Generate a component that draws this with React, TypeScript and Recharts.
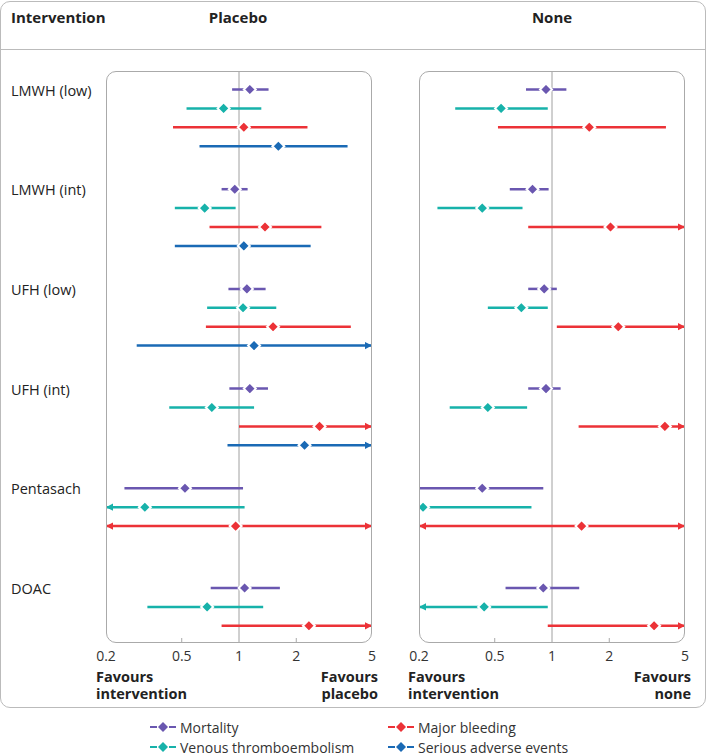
import React from 'react';
import { ScatterChart, Scatter, XAxis, YAxis, ErrorBar, ReferenceLine } from 'recharts';

const groups = ['LMWH (low)', 'LMWH (int)', 'UFH (low)', 'UFH (int)', 'Pentasach', 'DOAC'];
const metrics = ['Mortality', 'Venous thromboembolism', 'Major bleeding', 'Serious adverse events'];
const colors = ['#6a57b0', '#17b2aa', '#ec3237', '#1a6ab5'];
const xTicks = [0.2, 0.5, 1, 2, 5];
const innerTicks = [0.5, 2];

// [lower, estimate, upper]; a null bound means the interval runs past the axis
type CI = [number | null, number, number | null] | null;

const placeboMortality: CI[] = [[0.92, 1.14, 1.43], [0.81, 0.95, 1.11], [0.88, 1.1, 1.38], [0.89, 1.14, 1.42], [0.25, 0.52, 1.05], [0.71, 1.07, 1.64]];
const placeboVte: CI[] = [[0.53, 0.83, 1.31], [0.46, 0.66, 0.96], [0.68, 1.05, 1.57], [0.43, 0.72, 1.2], [null, 0.32, 1.07], [0.33, 0.68, 1.34]];
const placeboBleeding: CI[] = [[0.45, 1.06, 2.29], [0.7, 1.37, 2.71], [0.67, 1.51, 3.87], [1.0, 2.65, null], [null, 0.96, null], [0.81, 2.33, null]];
const placeboSae: CI[] = [[0.62, 1.61, 3.72], [0.46, 1.06, 2.38], [0.29, 1.2, null], [0.87, 2.21, null], null, null];

const noneMortality: CI[] = [[0.73, 0.93, 1.19], [0.6, 0.79, 0.96], [0.75, 0.91, 1.06], [0.75, 0.93, 1.11], [0.2, 0.43, 0.9], [0.57, 0.9, 1.39]];
const noneVte: CI[] = [[0.31, 0.54, 0.95], [0.25, 0.43, 0.7], [0.46, 0.69, 0.95], [0.29, 0.46, 0.74], [0.2, 0.21, 0.78], [null, 0.44, 0.95]];
const noneBleeding: CI[] = [[0.52, 1.57, 3.97], [0.75, 2.03, null], [1.06, 2.23, null], [1.38, 3.92, null], [null, 1.43, null], [0.95, 3.44, null]];
const noneSae: CI[] = [null, null, null, null, null, null];

const placeboSets = [placeboMortality, placeboVte, placeboBleeding, placeboSae];
const noneSets = [noneMortality, noneVte, noneBleeding, noneSae];

const X_MIN = 0.2;
const X_MAX = 5;
const GROUP = 99.7;
const ROW = 18.9;
const PLOT_TOP = 71;
const PLOT_H = 572;
const Y_MIN = -18.5;
const Y_MAX = PLOT_H - 18.5;
const FONT = '"Open Sans", sans-serif';

function buildSeries(ci: CI[], k: number) {
  const points: any[] = [];
  const arrows: any[] = [];
  ci.forEach((c, g) => {
    if (!c) return;
    const [lo, est, hi] = c;
    const y = g * GROUP + k * ROW;
    const l = lo ?? X_MIN;
    const h = hi ?? X_MAX;
    points.push({ x: est, y, err: [est - l, h - est] });
    if (lo === null) arrows.push({ x: X_MIN, y, dir: -1 });
    if (hi === null) arrows.push({ x: X_MAX, y, dir: 1 });
  });
  return { points, arrows };
}

const Diamond = (p: any) => {
  const { cx, cy, fill } = p;
  const r = 6;
  return (
    <path
      d={`M${cx},${cy - r}L${cx + r},${cy}L${cx},${cy + r}L${cx - r},${cy}Z`}
      fill={fill}
      stroke="#fff"
      strokeWidth={2}
    />
  );
};

const Arrow = (p: any) => {
  const { cx, cy, fill, payload } = p;
  const d = payload.dir;
  return <path d={`M${cx},${cy}L${cx - d * 7},${cy - 3.6}L${cx - d * 7},${cy + 3.6}Z`} fill={fill} />;
};

const GroupTick = (p: any) => {
  const { y, index } = p;
  return (
    <text x={11} y={y} dy={6} fill="#222" fontSize={14.5} fontFamily={FONT} textAnchor="start">
      {groups[index]}
    </text>
  );
};

function Panel({ sets, left, width, marginLeft, labels }: any) {
  return (
    <div style={{ position: 'absolute', left, top: PLOT_TOP }}>
      <ScatterChart width={width} height={PLOT_H + 30} margin={{ top: 0, right: 8, bottom: 0, left: marginLeft }}>
        <XAxis
          type="number"
          dataKey="x"
          scale="log"
          domain={[X_MIN, X_MAX]}
          ticks={xTicks}
          interval={0}
          allowDataOverflow
          axisLine={false}
          tickLine={false}
          height={30}
          tick={{ fill: '#333', fontSize: 14, fontFamily: FONT }}
        />
        <YAxis
          type="number"
          dataKey="y"
          domain={[Y_MIN, Y_MAX]}
          reversed
          hide={!labels}
          ticks={groups.map((_, g) => g * GROUP)}
          interval={0}
          width={labels ? 106 : 0}
          axisLine={false}
          tickLine={false}
          tick={<GroupTick />}
        />
        <ReferenceLine x={1} stroke="#a0a0a0" strokeWidth={1} />
        {innerTicks.map((t) => (
          <ReferenceLine
            key={t}
            segment={[{ x: t, y: Y_MAX }, { x: t, y: Y_MAX - 5 }]}
            stroke="#aaa"
            strokeWidth={1}
          />
        ))}
        {sets.map((ci: CI[], k: number) => {
          const { points, arrows } = buildSeries(ci, k);
          return [
            <Scatter
              key={`p${k}`}
              data={points}
              fill={colors[k]}
              shape={<Diamond />}
              isAnimationActive={false}
            >
              <ErrorBar
                dataKey="err"
                direction="x"
                width={0}
                stroke={colors[k]}
                strokeWidth={2.5}
                isAnimationActive={false}
              />
            </Scatter>,
            <Scatter
              key={`a${k}`}
              data={arrows}
              fill={colors[k]}
              shape={<Arrow />}
              isAnimationActive={false}
            />,
          ];
        })}
      </ScatterChart>
    </div>
  );
}

const boxStyle: React.CSSProperties = {
  position: 'absolute',
  top: PLOT_TOP,
  width: 266,
  height: PLOT_H,
  boxSizing: 'border-box',
  border: '1px solid #aaa',
  borderRadius: 10,
  pointerEvents: 'none',
};

const bold: React.CSSProperties = {
  position: 'absolute',
  fontFamily: FONT,
  fontWeight: 700,
  fontSize: 14.5,
  color: '#222',
  lineHeight: '17px',
  whiteSpace: 'nowrap',
};

function LegendMarker({ color }: { color: string }) {
  return (
    <svg width={26} height={12} style={{ display: 'block' }}>
      <line x1={0} y1={6} x2={7} y2={6} stroke={color} strokeWidth={2} />
      <line x1={19} y1={6} x2={26} y2={6} stroke={color} strokeWidth={2} />
      <path d="M13,1L18,6L13,11L8,6Z" fill={color} />
    </svg>
  );
}

export default function App() {
  return (
    <div style={{ position: 'absolute', left: 0, top: 0, width: 709, height: 756, background: '#fff' }}>
      <div
        style={{
          position: 'absolute',
          left: 0,
          top: 1,
          width: 706,
          height: 707,
          boxSizing: 'border-box',
          border: '1px solid #bbb',
          borderRadius: 10,
        }}
      />
      <div style={{ position: 'absolute', left: 1, top: 49, width: 704, height: 1, background: '#bbb' }} />
      <div style={{ ...bold, fontSize: 15, left: 11, top: 9, lineHeight: '16px' }}>Intervention</div>
      <div style={{ ...bold, fontSize: 15, left: 238, top: 9, lineHeight: '16px', transform: 'translateX(-50%)' }}>Placebo</div>
      <div style={{ ...bold, fontSize: 15, left: 552, top: 9, lineHeight: '16px', transform: 'translateX(-50%)' }}>None</div>

      <Panel sets={placeboSets} left={0} width={380} marginLeft={0} labels />
      <Panel sets={noneSets} left={380} width={313} marginLeft={39} labels={false} />
      <div style={{ ...boxStyle, left: 106 }} />
      <div style={{ ...boxStyle, left: 419 }} />

      <div style={{ ...bold, left: 96, top: 668 }}>Favours<br />intervention</div>
      <div style={{ ...bold, left: 378, top: 668, textAlign: 'right', transform: 'translateX(-100%)' }}>Favours<br />placebo</div>
      <div style={{ ...bold, left: 408, top: 668 }}>Favours<br />intervention</div>
      <div style={{ ...bold, left: 691, top: 668, textAlign: 'right', transform: 'translateX(-100%)' }}>Favours<br />none</div>

      {metrics.map((m, k) => {
        const col = Math.floor(k / 2);
        const row = k % 2;
        return (
          <div
            key={m}
            style={{
              position: 'absolute',
              left: col === 0 ? 150 : 388,
              top: 717 + row * 20,
              height: 20,
              display: 'flex',
              alignItems: 'center',
              gap: 4,
              fontFamily: FONT,
              fontSize: 14,
              color: '#333',
              whiteSpace: 'nowrap',
            }}
          >
            <LegendMarker color={colors[k]} />
            <span>{m}</span>
          </div>
        );
      })}
    </div>
  );
}
